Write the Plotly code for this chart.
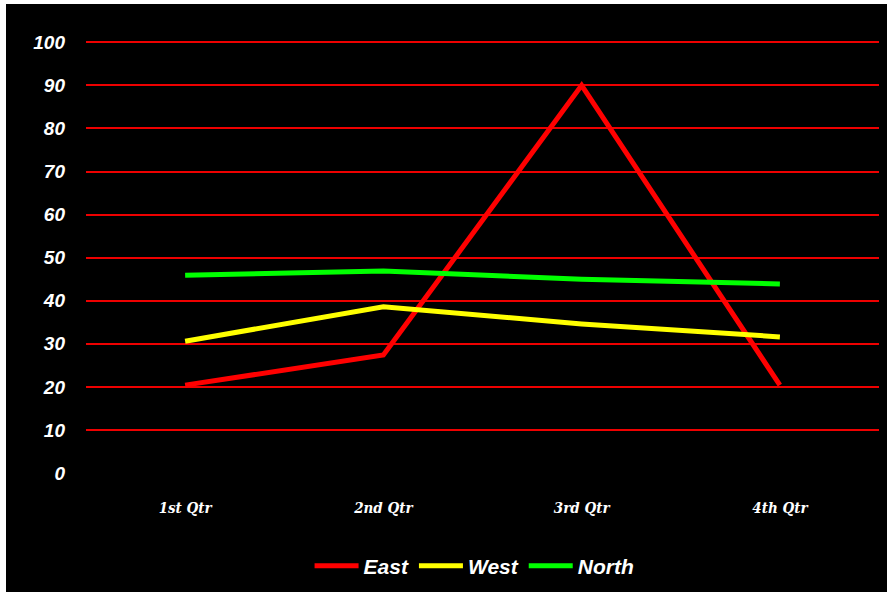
import plotly.graph_objects as go

quarters = ["1st Qtr", "2nd Qtr", "3rd Qtr", "4th Qtr"]
east = [20.4, 27.4, 90, 20.4]
west = [30.6, 38.6, 34.6, 31.6]
north = [45.9, 46.9, 45, 43.9]

series = [("East", east, "#ff0000"), ("West", west, "#ffff00"), ("North", north, "#00ff00")]

fig = go.Figure()
for name, vals, color in series:
    fig.add_trace(go.Scatter(x=quarters, y=vals, name=name, mode="lines",
                             line=dict(color=color, width=5)))

W, H = 887, 592
L, R, T, B = 86, 8, 38, 119
pw = W - L - R
ph = H - T - B

# white frame strips on the left and top edges of the black page
fig.add_shape(type="rect", xref="paper", yref="paper", layer="below",
              x0=-L / pw, x1=(6 - L) / pw, y0=-B / ph, y1=(H - B) / ph + 0.01,
              fillcolor="white", line_width=0)
fig.add_shape(type="rect", xref="paper", yref="paper", layer="below",
              x0=-L / pw, x1=(W - L) / pw, y0=1 + (T - 4) / ph, y1=1 + T / ph + 0.01,
              fillcolor="white", line_width=0)

fig.update_layout(
    width=W, height=H,
    margin=dict(l=L, r=R, t=T, b=B, autoexpand=False),
    paper_bgcolor="black", plot_bgcolor="black",
    showlegend=True,
    legend=dict(orientation="h", x=0.49, xanchor="center", y=-93 / ph, yanchor="middle",
                font=dict(family="Liberation Sans, Arial", size=21, color="white",
                          weight="bold", style="italic"),
                itemwidth=44, bgcolor="rgba(0,0,0,0)"),
    xaxis=dict(range=[-0.5, 3.5], showgrid=False, zeroline=False, showline=False, ticks="",
               ticklabelstandoff=24,
               tickfont=dict(family="DejaVu Serif Condensed, serif", size=15, color="white",
                             weight="bold", style="italic")),
    yaxis=dict(range=[0, 101], dtick=10, tick0=0, showgrid=True, gridcolor="#ee0000",
               gridwidth=1.5, zeroline=False, showline=False, ticks="",
               ticklabelstandoff=20,
               tickfont=dict(family="Liberation Sans, Arial", size=19, color="white",
                             weight="bold", style="italic")),
)

fig.write_html("out.html")
